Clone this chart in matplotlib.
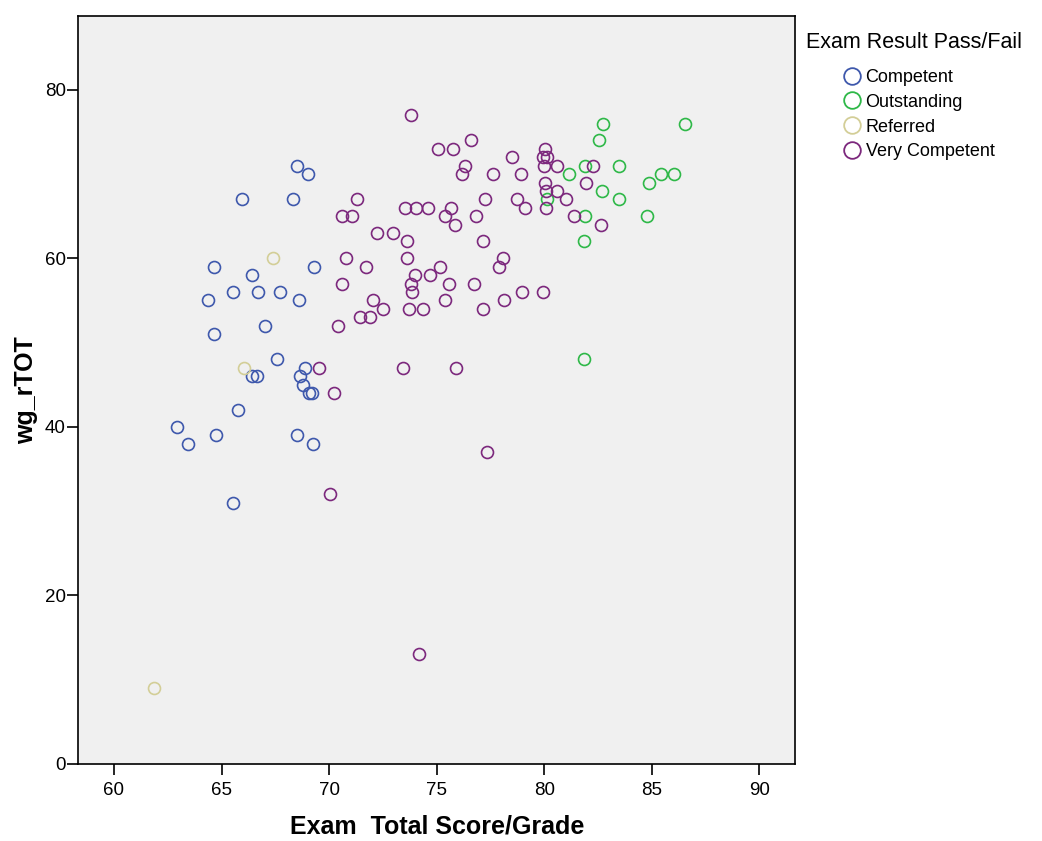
import numpy as np
import matplotlib
matplotlib.use('Agg')
import matplotlib.pyplot as plt
from matplotlib.lines import Line2D

plt.rcParams['font.family'] = ['Liberation Sans', 'DejaVu Sans']

# exam total score (x) and wg_rTOT (y), one pair of lists per result group
competent_x = [68.53, 69.04, 65.95, 68.31, 64.63, 69.28, 66.40, 65.53, 66.70, 67.74,
               64.37, 68.61, 67.00, 64.63, 67.58, 68.90, 66.40, 66.67, 68.67, 68.78,
               69.06, 69.21, 65.75, 62.94, 64.74, 68.53, 63.45, 69.23, 65.54]
competent_y = [71, 70, 67, 67, 59, 59, 58, 56, 56, 56,
               55, 55, 52, 51, 48, 47, 46, 46, 46, 45,
               44, 44, 42, 40, 39, 39, 38, 38, 31]

outstanding_x = [82.73, 86.55, 82.53, 81.91, 83.50, 81.17, 85.42, 86.02, 84.86, 82.67,
                 80.11, 83.46, 81.91, 84.80, 81.86, 81.84]
outstanding_y = [76, 76, 74, 71, 71, 70, 70, 70, 69, 68,
                 67, 67, 65, 65, 62, 48]

referred_x = [67.38, 66.04, 61.86]
referred_y = [60, 47, 9]

very_x = [73.81, 76.61, 75.06, 75.78, 80.02, 78.50, 79.93, 80.13, 76.34, 79.97,
          80.61, 82.25, 76.18, 77.60, 78.94, 80.02, 81.96, 80.08, 80.61, 71.29,
          77.26, 78.72, 81.00, 70.58, 71.07, 76.83, 81.38, 73.52, 74.04, 74.60,
          75.65, 79.12, 80.10, 75.37, 75.87, 82.65, 72.25, 72.97, 73.60, 77.14,
          70.79, 73.64, 78.08, 71.72, 75.14, 77.91, 74.01, 74.69, 70.58, 73.79,
          75.56, 76.73, 73.85, 78.96, 79.93, 72.03, 75.41, 78.15, 72.51, 73.72,
          74.35, 77.14, 71.46, 71.92, 70.40, 69.52, 73.44, 75.88, 70.22, 77.32,
          70.03, 74.20]
very_y = [77, 74, 73, 73, 73, 72, 72, 72, 71, 71,
          71, 71, 70, 70, 70, 69, 69, 68, 68, 67,
          67, 67, 67, 65, 65, 65, 65, 66, 66, 66,
          66, 66, 66, 65, 64, 64, 63, 63, 62, 62,
          60, 60, 60, 59, 59, 59, 58, 58, 57, 57,
          57, 57, 56, 56, 56, 55, 55, 55, 54, 54,
          54, 54, 53, 53, 52, 47, 47, 47, 44, 37,
          32, 13]

groups = ['Competent', 'Outstanding', 'Referred', 'Very Competent']
colors = ['#3E58AC', '#2EB848', '#D3CE97', '#7C287D']
xs = [competent_x, outstanding_x, referred_x, very_x]
ys = [competent_y, outstanding_y, referred_y, very_y]

x_ticks = [60, 65, 70, 75, 80, 85, 90]
y_ticks = [0, 20, 40, 60, 80]

fig = plt.figure(figsize=(10.42, 8.41), dpi=100)
ax = fig.add_axes([0.0753, 0.0919, 0.6879, 0.8894])
ax.set_facecolor('#F0F0F0')

for name, color, gx, gy in zip(groups, colors, xs, ys):
    ax.plot(gx, gy, linestyle='none', marker='o', markersize=8.6,
            markerfacecolor='none', markeredgecolor=color, markeredgewidth=1.2)

ax.set_xlim(58.35, 91.67)
ax.set_ylim(0, 88.8)
ax.set_xticks(x_ticks)
ax.set_yticks(y_ticks)

for side in ['left', 'right', 'top', 'bottom']:
    ax.spines[side].set_linewidth(1.2)
    ax.spines[side].set_color('black')

ax.tick_params(axis='both', direction='out', length=8, width=1.2,
               labelsize=13.5, colors='black')
ax.tick_params(axis='x', pad=5)
ax.tick_params(axis='y', pad=1)

ax.set_xlabel('Exam  Total Score/Grade', fontsize=18, fontweight='bold',
              labelpad=11)
ax.set_ylabel('wg_rTOT', fontsize=18, fontweight='bold', labelpad=5)

# legend: title as plain figure text, entries indented under it
fig.text(806 / 1042, 1 - 43 / 841, 'Exam Result Pass/Fail', fontsize=15.5,
         ha='left', va='center')
handles = [Line2D([], [], linestyle='none', marker='o', markersize=12,
                  markerfacecolor='none', markeredgecolor=c, markeredgewidth=1.3)
           for c in colors]
ax.legend(handles, groups, loc='upper left',
          bbox_to_anchor=(843 / 1042, 1 - 69 / 841),
          bbox_transform=fig.transFigure, frameon=False, fontsize=13,
          handlelength=1.0, handletextpad=0.25, borderpad=0, borderaxespad=0,
          labelspacing=0.43)

fig.savefig('out.png', dpi=100)
